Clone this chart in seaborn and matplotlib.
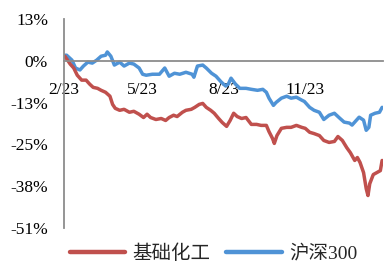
import matplotlib
matplotlib.use("Agg")
import matplotlib.pyplot as plt
import seaborn as sns
import pandas as pd
from matplotlib.lines import Line2D

# ---- data ----
series_names = ["基础化工", "沪深300"]

chem_dates = ["2023-02-02", "2023-02-05", "2023-02-08", "2023-02-12", "2023-02-16", "2023-02-21",
              "2023-02-26", "2023-03-02", "2023-03-06", "2023-03-11", "2023-03-15", "2023-03-20",
              "2023-03-25", "2023-03-28", "2023-03-31", "2023-04-05", "2023-04-10", "2023-04-16",
              "2023-04-21", "2023-04-27", "2023-05-02", "2023-05-06", "2023-05-10", "2023-05-16",
              "2023-05-22", "2023-05-27", "2023-05-31", "2023-06-05", "2023-06-09", "2023-06-15",
              "2023-06-19", "2023-06-25", "2023-06-29", "2023-07-04", "2023-07-08", "2023-07-12",
              "2023-07-17", "2023-07-21", "2023-07-26", "2023-07-30", "2023-08-04", "2023-08-08",
              "2023-08-12", "2023-08-16", "2023-08-21", "2023-08-26", "2023-09-01", "2023-09-07",
              "2023-09-12", "2023-09-18", "2023-09-21", "2023-09-25", "2023-09-27", "2023-09-30",
              "2023-10-05", "2023-10-11", "2023-10-16", "2023-10-22", "2023-10-28", "2023-11-01",
              "2023-11-06", "2023-11-11", "2023-11-17", "2023-11-22", "2023-11-28", "2023-12-04",
              "2023-12-08", "2023-12-13", "2023-12-18", "2023-12-22", "2023-12-27", "2023-12-30",
              "2024-01-02", "2024-01-06", "2024-01-09", "2024-01-11", "2024-01-13", "2024-01-17",
              "2024-01-21", "2024-01-25", "2024-01-27"]
chem_values = [1.4, 0.2, -1.0, -2.2, -4.4, -5.9,
               -5.9, -7.1, -8.1, -8.4, -9.0, -9.6,
               -10.8, -13.3, -14.5, -15.1, -14.8, -15.7,
               -15.4, -16.3, -17.3, -16.3, -17.3, -17.9,
               -17.6, -18.2, -17.3, -16.6, -17.0, -15.7,
               -15.1, -14.8, -14.2, -13.3, -13.0, -14.2,
               -15.1, -16.0, -17.6, -18.8, -20.0, -18.2,
               -16.0, -17.0, -17.6, -17.3, -19.4, -19.4,
               -19.7, -19.7, -21.6, -23.7, -25.2, -22.8,
               -20.6, -20.3, -20.3, -19.7, -20.3, -20.6,
               -21.8, -22.2, -22.8, -24.3, -24.9, -24.6,
               -23.1, -24.3, -26.5, -28.0, -30.4, -29.5,
               -31.0, -34.1, -39.0, -41.1, -37.5, -34.7,
               -34.1, -33.5, -30.4]

hs300_dates = ["2023-02-02", "2023-02-04", "2023-02-10", "2023-02-14", "2023-02-19", "2023-02-23",
               "2023-02-28", "2023-03-05", "2023-03-10", "2023-03-15", "2023-03-20", "2023-03-22",
               "2023-03-26", "2023-03-30", "2023-04-05", "2023-04-10", "2023-04-16", "2023-04-21",
               "2023-04-27", "2023-05-01", "2023-05-05", "2023-05-12", "2023-05-20", "2023-05-26",
               "2023-05-31", "2023-06-06", "2023-06-12", "2023-06-19", "2023-06-26", "2023-06-28",
               "2023-07-02", "2023-07-08", "2023-07-12", "2023-07-18", "2023-07-23", "2023-07-29",
               "2023-08-03", "2023-08-06", "2023-08-09", "2023-08-14", "2023-08-19", "2023-08-26",
               "2023-09-01", "2023-09-08", "2023-09-14", "2023-09-18", "2023-09-21", "2023-09-26",
               "2023-09-29", "2023-10-05", "2023-10-11", "2023-10-16", "2023-10-22", "2023-10-28",
               "2023-10-31", "2023-11-06", "2023-11-11", "2023-11-17", "2023-11-22", "2023-11-28",
               "2023-12-04", "2023-12-10", "2023-12-15", "2023-12-21", "2023-12-24", "2023-12-29",
               "2024-01-01", "2024-01-06", "2024-01-09", "2024-01-12", "2024-01-14", "2024-01-19",
               "2024-01-24", "2024-01-27"]
hs300_values = [1.7, 1.7, 0.2, -2.2, -2.8, -1.6,
                -0.4, -0.7, 0.2, 1.4, 1.7, 2.7,
                1.4, -1.3, -0.4, -1.6, -0.7, -1.0,
                -2.2, -4.1, -4.4, -4.1, -4.1, -2.2,
                -4.7, -3.8, -4.1, -3.5, -4.1, -5.0,
                -1.6, -1.3, -2.2, -3.8, -4.7, -6.5,
                -7.7, -7.1, -5.3, -7.1, -8.4, -8.4,
                -8.7, -9.0, -8.7, -9.6, -11.4, -13.6,
                -12.7, -11.4, -10.8, -11.4, -11.1, -12.0,
                -12.4, -14.2, -15.1, -15.7, -17.9, -16.6,
                -16.0, -17.5, -18.7, -19.0, -19.6, -18.1,
                -17.2, -18.1, -21.2, -20.3, -16.6, -16.0,
                -15.7, -14.2]

y_ticks = [12.75, 0.0, -12.75, -25.5, -38.25, -51.0]
y_tick_labels = ["13%", "0%", "-13%", "-25%", "-38%", "-51%"]
x_tick_dates = ["2023-02-01", "2023-05-01", "2023-08-01", "2023-11-01"]
x_tick_labels = ["2/23", "5/23", "8/23", "11/23"]

colors = {"基础化工": "#C0504D", "沪深300": "#4F93D6"}

df = pd.concat([
    pd.DataFrame({"date": pd.to_datetime(chem_dates), "value": chem_values, "series": series_names[0]}),
    pd.DataFrame({"date": pd.to_datetime(hs300_dates), "value": hs300_values, "series": series_names[1]}),
])

sns.set_style("white")
plt.rcParams["font.family"] = ["Liberation Serif", "Noto Sans CJK SC"]

fig = plt.figure(figsize=(3.85, 2.64), dpi=100)
ax = fig.add_axes([64 / 385, 1 - 228 / 264, (383 - 64) / 385, (228 - 19) / 264])

sns.lineplot(data=df, x="date", y="value", hue="series", hue_order=series_names[::-1],
             palette=colors, linewidth=2.5, ax=ax, legend=False)

ax.set_xlim(pd.Timestamp("2023-02-01"), pd.Timestamp("2024-01-28"))
ax.set_ylim(-51, 12.75)
ax.set_yticks(y_ticks)
ax.set_yticklabels(y_tick_labels)
ax.set_xticks(pd.to_datetime(x_tick_dates))
ax.set_xticklabels(x_tick_labels)
ax.set_xlabel("")
ax.set_ylabel("")

axis_color = "#8C8C8C"
for s in ["top", "right"]:
    ax.spines[s].set_visible(False)
ax.spines["bottom"].set_position(("data", 0))
ax.spines["bottom"].set_color(axis_color)
ax.spines["bottom"].set_linewidth(1.3)
ax.spines["left"].set_color(axis_color)
ax.spines["left"].set_linewidth(1.3)
ax.tick_params(axis="y", direction="out", length=4.5, width=1.2, color=axis_color,
               labelsize=12.5, pad=7, labelcolor="black")
ax.tick_params(axis="x", direction="out", length=4.5, width=1.2, color=axis_color,
               labelsize=12.5, pad=11, labelcolor="black")
ax.grid(False)

handles = [Line2D([0], [0], color=colors[n], lw=3.2) for n in series_names]
fig.legend(handles, series_names, loc="center", bbox_to_anchor=(0.555, 0.04),
           ncol=2, frameon=False, fontsize=14, handlelength=2.85, columnspacing=0.8,
           handletextpad=0.4, borderpad=0, borderaxespad=0)

fig.savefig("out.png", dpi=100)
